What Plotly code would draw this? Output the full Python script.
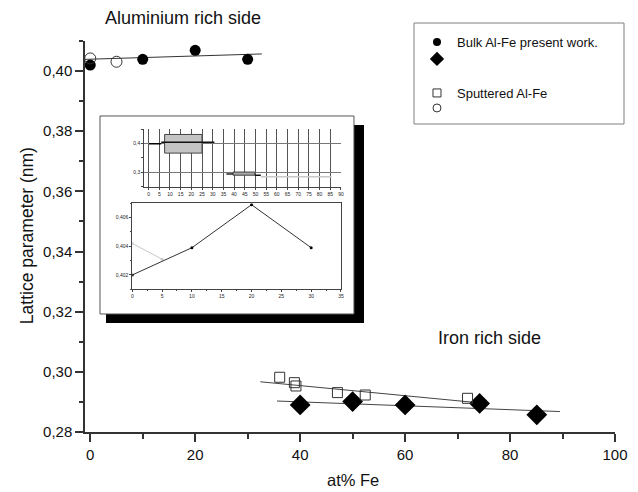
import plotly.graph_objects as go

# ---------------- data ----------------
# Aluminium rich side
bulk_al_x = [0, 10, 20, 30]
bulk_al_y = [0.4020, 0.4039, 0.4069, 0.4039]
sput_al_x = [0, 5]
sput_al_y = [0.4042, 0.4031]
al_fit_x = [-1, 32.7]
al_fit_y = [0.4039, 0.4057]

# Iron rich side
bulk_fe_x = [40, 50, 60, 74.2, 85.1]
bulk_fe_y = [0.2890, 0.2901, 0.2890, 0.2895, 0.2857]
sput_fe_x = [36.1, 38.9, 39.2, 47.1, 52.4, 71.9]
sput_fe_y = [0.2982, 0.2964, 0.2953, 0.2931, 0.2923, 0.2912]
fe_bulk_fit_x = [35.6, 89.5]
fe_bulk_fit_y = [0.2903, 0.2868]
fe_sput_fit_x = [32.4, 73.5]
fe_sput_fit_y = [0.2967, 0.2898]

x_ticks = [0, 20, 40, 60, 80, 100]
y_ticks = [0.28, 0.30, 0.32, 0.34, 0.36, 0.38, 0.40]

x_title = "at% Fe"
y_title = "Lattice parameter (nm)"

# legend entries
legend_names = ["Bulk Al-Fe present work.", " ", "Sputtered Al-Fe", " "]

# inset (top panel) boxes and segments
inset_box_x0 = [7.5, 39.5]
inset_box_x1 = [25.0, 49.7]
inset_box_y0 = [0.367, 0.290]
inset_box_y1 = [0.432, 0.301]
inset_box_fill = ["#c4c4c4", "#a8a8a8"]
inset_seg_x0 = [0.2, 5.9, 36.4, 49.7, 52.5]
inset_seg_x1 = [5.9, 30.8, 39.5, 52.5, 85.6]
inset_seg_y = [0.400, 0.4045, 0.294, 0.2895, 0.2845]
inset_seg_col = ["#000000", "#111111", "#222222", "#111111", "#c8c8c8"]

FONT = "Liberation Sans, Arial, sans-serif"

fig = go.Figure()

# ---- main traces ----
fig.add_trace(go.Scatter(x=al_fit_x, y=al_fit_y, mode="lines",
                         line=dict(color="#333333", width=1), showlegend=False))
fig.add_trace(go.Scatter(x=fe_sput_fit_x, y=fe_sput_fit_y, mode="lines",
                         line=dict(color="#444444", width=1), showlegend=False))
fig.add_trace(go.Scatter(x=fe_bulk_fit_x, y=fe_bulk_fit_y, mode="lines",
                         line=dict(color="#444444", width=1), showlegend=False))
fig.add_trace(go.Scatter(x=bulk_al_x, y=bulk_al_y, mode="markers",
                         marker=dict(symbol="circle", size=11, color="#000000",
                                     line=dict(width=0)), showlegend=False))
fig.add_trace(go.Scatter(x=sput_al_x, y=sput_al_y, mode="markers",
                         marker=dict(symbol="circle-open", size=11, color="#333333",
                                     line=dict(width=1)), showlegend=False))
fig.add_trace(go.Scatter(x=bulk_fe_x, y=bulk_fe_y, mode="markers",
                         marker=dict(symbol="diamond", size=16, color="#000000",
                                     line=dict(width=0)), showlegend=False))
fig.add_trace(go.Scatter(x=sput_fe_x, y=sput_fe_y, mode="markers",
                         marker=dict(symbol="square-open", size=10, color="#333333",
                                     line=dict(width=1)), showlegend=False))

# ---- legend entries (one legend each, for exact spacing) ----
legend_markers = [
    dict(symbol="circle", size=8, color="#000000"),
    dict(symbol="diamond", size=11, color="#000000"),
    dict(symbol="square-open", size=8, color="#333333", line=dict(width=1)),
    dict(symbol="circle-open", size=8, color="#333333", line=dict(width=1)),
]
legend_ids = ["legend", "legend2", "legend3", "legend4"]
for name, mk, lid in zip(legend_names, legend_markers, legend_ids):
    fig.add_trace(go.Scatter(x=[None], y=[None], mode="markers", name=name,
                             legend=lid, marker=mk, showlegend=True))

# ---- inset bottom panel traces ----
fig.add_trace(go.Scatter(x=sput_al_x, y=sput_al_y, mode="lines+markers", xaxis="x3", yaxis="y3",
                         line=dict(color="#c8c8c8", width=1),
                         marker=dict(size=3, color="#c8c8c8"), showlegend=False))
fig.add_trace(go.Scatter(x=bulk_al_x, y=bulk_al_y, mode="lines+markers", xaxis="x3", yaxis="y3",
                         line=dict(color="#333333", width=1),
                         marker=dict(size=3, color="#000000"), showlegend=False))

# ---- shapes ----
shapes = []
shapes.append(dict(type="rect", xref="paper", yref="paper", x0=0.0396, x1=0.5264,
                   y0=0.2788, y1=0.7852, fillcolor="#000000", line=dict(width=0), layer="below"))
shapes.append(dict(type="rect", xref="paper", yref="paper", x0=0.0283, x1=0.5075,
                   y0=0.3018, y1=0.8082, fillcolor="#ffffff",
                   line=dict(color="#555555", width=1), layer="below"))
shapes.append(dict(type="rect", xref="paper", yref="paper", x0=0.6208, x1=1.017,
                   y0=0.7877, y1=1.046, fillcolor="rgba(0,0,0,0)",
                   line=dict(color="#808080", width=1), layer="above"))
for x0, x1, y0, y1, fc in zip(inset_box_x0, inset_box_x1, inset_box_y0, inset_box_y1, inset_box_fill):
    shapes.append(dict(type="rect", xref="x2", yref="y2", x0=x0, x1=x1, y0=y0, y1=y1,
                       fillcolor=fc, line=dict(color="#444444", width=1), layer="above"))
for x0, x1, y, c in zip(inset_seg_x0, inset_seg_x1, inset_seg_y, inset_seg_col):
    shapes.append(dict(type="line", xref="x2", yref="y2", x0=x0, x1=x1, y0=y, y1=y,
                       line=dict(color=c, width=1.5), layer="above"))

annotations = [
    dict(text="Aluminium rich side", xref="paper", yref="paper", x=0.185, y=1.0588,
         xanchor="center", yanchor="middle", showarrow=False,
         font=dict(family=FONT, size=18, color="#111111")),
    dict(text="Iron rich side", xref="paper", yref="paper", x=0.7632, y=0.2400,
         xanchor="center", yanchor="middle", showarrow=False,
         font=dict(family=FONT, size=18, color="#111111")),
    dict(text=x_title, xref="paper", yref="paper", x=0.506, y=-0.1228,
         xanchor="center", yanchor="middle", showarrow=False,
         font=dict(family=FONT, size=16.5, color="#111111")),
    dict(text=y_title, xref="paper", yref="paper", x=-0.1094, y=0.501, textangle=-90,
         xanchor="center", yanchor="middle", showarrow=False,
         font=dict(family=FONT, size=17.5, color="#111111")),
]

axis_common = dict(showline=True, linecolor="#333333", linewidth=1.5, ticks="outside",
                   tickcolor="#333333", showgrid=False, zeroline=False, automargin=False)
inset_font = dict(family=FONT, size=5, color="#222222")

legend_y = [0.9974, 0.9540, 0.8670, 0.8286]
legend_layout = {}
for lid, ly in zip(legend_ids, legend_y):
    legend_layout[lid] = dict(x=0.6264, y=ly, xanchor="left", yanchor="middle",
                              bgcolor="rgba(0,0,0,0)", borderwidth=0,
                              font=dict(family=FONT, size=13, color="#111111"))

inset_axis = dict(showline=True, linecolor="#444444", linewidth=1, ticks="outside",
                  ticklen=2, tickcolor="#444444", tickfont=inset_font, zeroline=False,
                  automargin=False)

fig.update_layout(
    width=638, height=492,
    margin=dict(l=85, r=23, t=41, b=60, autoexpand=False),
    paper_bgcolor="#ffffff", plot_bgcolor="rgba(0,0,0,0)",
    separators=",.",
    font=dict(family=FONT, color="#111111"),
    xaxis=dict(range=[-1, 100], tickvals=x_ticks, ticklen=8, tickwidth=1.5,
               minor=dict(dtick=10, tick0=0, ticks="outside", ticklen=5, tickcolor="#333333"),
               tickfont=dict(family=FONT, size=15, color="#111111"),
               **axis_common),
    yaxis=dict(range=[0.28, 0.41], tickvals=y_ticks, tickformat=".2f", ticklen=8, tickwidth=1.5,
               minor=dict(dtick=0.01, tick0=0.28, ticks="outside", ticklen=4, tickcolor="#333333"),
               tickfont=dict(family=FONT, size=15, color="#111111"),
               **axis_common),
    xaxis2=dict(domain=[0.1119, 0.483], anchor="y2", range=[-2, 90], dtick=5, tick0=0,
                showgrid=True, gridcolor="#555555", gridwidth=1, **inset_axis),
    yaxis2=dict(domain=[0.6274, 0.7742], anchor="x2", range=[0.25, 0.45],
                tickvals=[0.3, 0.4], tickformat=".1f", showgrid=True, gridcolor="#777777",
                gridwidth=1,
                minor=dict(dtick=0.05, tick0=0.25, ticks="outside", ticklen=2),
                **inset_axis),
    xaxis3=dict(domain=[0.0892, 0.483], anchor="y3", range=[0, 35], dtick=5, tick0=0,
                mirror=True, showgrid=False,
                minor=dict(dtick=2.5, ticks="outside", ticklen=1),
                **inset_axis),
    yaxis3=dict(domain=[0.3650, 0.5849], anchor="x3", range=[0.401, 0.407],
                tickvals=[0.402, 0.404, 0.406], tickformat=".3f",
                mirror=True, showgrid=False,
                minor=dict(dtick=0.001, ticks="outside", ticklen=1),
                **inset_axis),
    shapes=shapes,
    annotations=annotations,
    showlegend=True,
    **legend_layout,
)

fig.write_html("out.html")
